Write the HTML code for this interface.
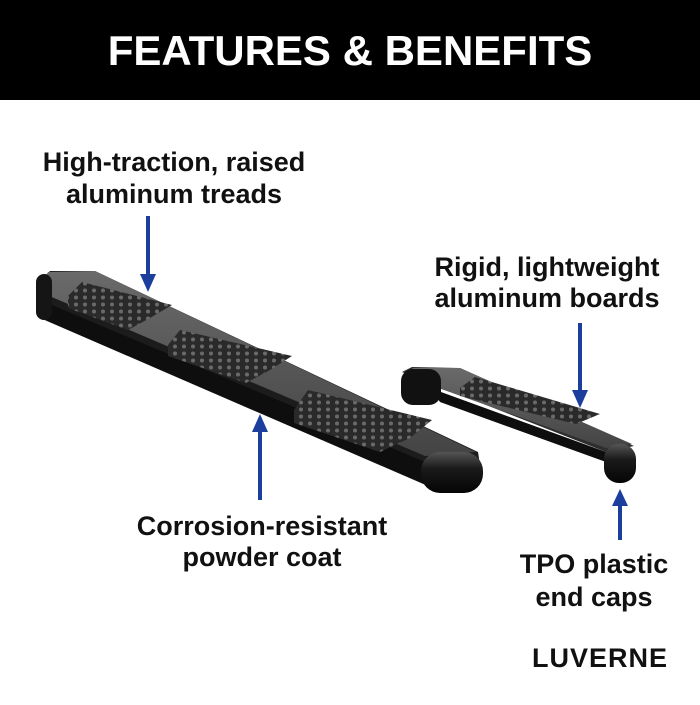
<!DOCTYPE html>
<html><head><style>
body{margin:0;width:700px;height:700px;background:#fff;overflow:hidden;font-family:"Liberation Sans",sans-serif}
</style></head><body>
<svg width="700" height="700" viewBox="0 0 700 700" xmlns="http://www.w3.org/2000/svg">
<defs>
<linearGradient id="top" x1="0" y1="0" x2="0" y2="1"><stop offset="0" stop-color="#6a6a6a"/><stop offset="1" stop-color="#444"/></linearGradient>
<linearGradient id="cap" x1="0" y1="0" x2="0" y2="1"><stop offset="0" stop-color="#555"/><stop offset="0.4" stop-color="#1a1a1a"/><stop offset="1" stop-color="#050505"/></linearGradient>
<pattern id="dots" width="9" height="7" patternUnits="userSpaceOnUse"><rect width="9" height="7" fill="#2a2a2a"/><circle cx="4" cy="3.5" r="2" fill="#6a6a6a"/></pattern>
</defs>
<rect x="0" y="0" width="700" height="100" fill="#000"/>
<text x="350" y="65" fill="#fff" font-size="42" font-weight="bold" text-anchor="middle">FEATURES &amp; BENEFITS</text>
<g font-size="27" font-weight="bold" fill="#111" text-anchor="middle">
<text x="174" y="171">High-traction, raised</text>
<text x="174" y="203">aluminum treads</text>
<text x="547" y="276">Rigid, lightweight</text>
<text x="547" y="307">aluminum boards</text>
<text x="262" y="535">Corrosion-resistant</text>
<text x="262" y="566">powder coat</text>
<text x="594" y="573">TPO plastic</text>
<text x="594" y="606">end caps</text>
</g>
<text x="600" y="667" font-size="27" font-weight="bold" fill="#111" text-anchor="middle" letter-spacing="1">LUVERNE</text>
<!-- long board -->
<polygon points="38,282 50,271 95,271 478,452 482,478 440,490 38,315" fill="#1c1c1c"/>
<polygon points="48,272 95,271 476,452 425,456 40,292" fill="url(#top)"/>
<polygon points="40,300 425,462 428,486 40,318" fill="#0e0e0e"/>
<rect x="36" y="274" width="16" height="46" rx="8" fill="#151515"/>
<polygon points="68,296 82,282 172,305 150,318 128,330 68,308" fill="url(#dots)"/>
<polygon points="168,345 180,330 292,356 270,370 246,383 168,356" fill="url(#dots)"/>
<polygon points="294,410 308,390 432,420 410,438 380,452 294,423" fill="url(#dots)"/>
<rect x="421" y="452" width="62" height="41" rx="19" fill="url(#cap)"/>
<!-- short board -->
<polygon points="402,372 412,367 460,368 634,446 606,452" fill="#2e2e2e"/>
<polygon points="412,368 460,368 632,444 606,448 430,385" fill="url(#top)"/>
<polygon points="430,388 606,452 606,462 440,402" fill="#0e0e0e"/>
<rect x="401" y="369" width="40" height="36" rx="12" fill="#111"/>
<polygon points="460,388 475,377 600,414 576,424 460,396" fill="url(#dots)"/>
<rect x="604" y="444" width="32" height="39" rx="15" fill="url(#cap)"/>
<!-- arrows -->
<g fill="#1c3f9e" stroke="#1c3f9e" stroke-width="4">
<line x1="148" y1="216" x2="148" y2="276"/>
<polygon points="140,274 156,274 148,292" stroke="none"/>
<line x1="580" y1="323" x2="580" y2="392"/>
<polygon points="572,390 588,390 580,408" stroke="none"/>
<line x1="260" y1="500" x2="260" y2="430"/>
<polygon points="252,432 268,432 260,414" stroke="none"/>
<line x1="620" y1="540" x2="620" y2="504"/>
<polygon points="612,506 628,506 620,489" stroke="none"/>
</g>
</svg>
</body></html>
